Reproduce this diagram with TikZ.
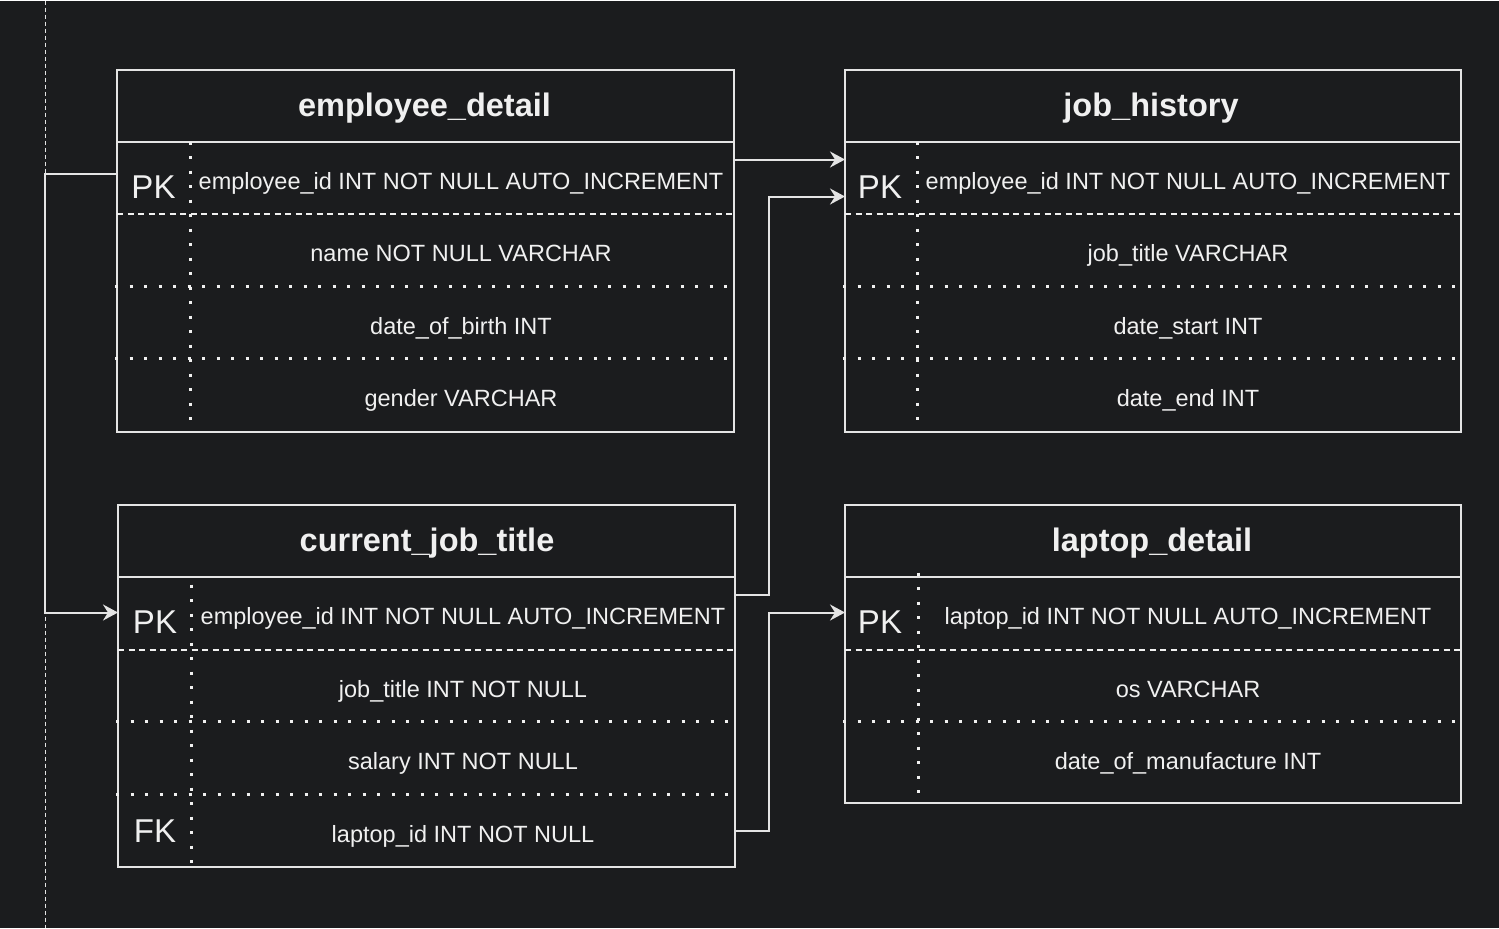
\documentclass[tikz,border=0pt]{standalone}
\usepackage{fontspec}
\setmainfont{Liberation Sans}
\usetikzlibrary{arrows.meta,positioning}
\definecolor{bgdark}{HTML}{1B1C1E}
\definecolor{linegray}{HTML}{E4E4E4}
\definecolor{txtwhite}{HTML}{F0F0F0}

\tikzset{
  frame/.style={draw=linegray, line width=1pt},
  pkline/.style={draw=txtwhite, line width=1pt, dash pattern=on 3pt off 2.25pt},
  dotline/.style={draw=txtwhite, line width=1.5pt, dash pattern=on 1.5pt off 5.75pt},
  guide/.style={draw=linegray, line width=0.5pt, dash pattern=on 2pt off 1.5pt},
  title/.style={text=txtwhite, anchor=base, inner sep=0pt, font=\fontsize{16.25}{19}\selectfont\bfseries},
  keytxt/.style={text=txtwhite, anchor=base, inner sep=0pt, font=\fontsize{16.5}{19}\selectfont},
  fieldtxt/.style={text=txtwhite, anchor=base, inner sep=0pt, font=\fontsize{11.75}{14}\selectfont},
  link/.style={draw=linegray, line width=1pt, -{Stealth[length=7.5pt,width=8pt,inset=2.5pt]}}
}

\begin{document}
\begin{tikzpicture}[x=0.5pt,y=-0.5pt]

  % background
  \fill[bgdark] (0,0) rectangle (1499,927);

  % guide line on the left
  \draw[guide] (45,0) -- (45,927);

  % employee_detail
  \draw[frame] (117,69) rectangle (734,431);
  \draw[frame] (117,141) -- (734,141);
  \draw[pkline] (117,213) -- (734,213);
  \foreach \y in {286,358} \draw[dotline] (115,\y) -- (734,\y);
  \draw[dotline] (190,141) -- (190,431);
  \node[title] (edtitle) at (424.5,116) {employee\_detail};
  \node[keytxt] (edpk) at (153.5,198) {PK};
  \node[fieldtxt] (ed1) at (461,188.5) {employee\_id INT NOT NULL AUTO\_INCREMENT};
  \node[fieldtxt] (ed2) at (461,261) {name NOT NULL VARCHAR};
  \node[fieldtxt] (ed3) at (461,333.5) {date\_of\_birth INT};
  \node[fieldtxt] (ed4) at (461,406) {gender VARCHAR};

  % job_history
  \draw[frame] (845,69) rectangle (1461,431);
  \draw[frame] (845,141) -- (1461,141);
  \draw[pkline] (845,213) -- (1461,213);
  \foreach \y in {286,358} \draw[dotline] (843,\y) -- (1461,\y);
  \draw[dotline] (917,141) -- (917,431);
  \node[title] (jhtitle) at (1151,116) {job\_history};
  \node[keytxt] (jhpk) at (880,198) {PK};
  \node[fieldtxt] (jh1) at (1188,188.5) {employee\_id INT NOT NULL AUTO\_INCREMENT};
  \node[fieldtxt] (jh2) at (1188,261) {job\_title VARCHAR};
  \node[fieldtxt] (jh3) at (1188,333.5) {date\_start INT};
  \node[fieldtxt] (jh4) at (1188,406) {date\_end INT};

  % current_job_title
  \draw[frame] (118,504) rectangle (735,866);
  \draw[frame] (118,576) -- (735,576);
  \draw[pkline] (118,649) -- (735,649);
  \foreach \y in {721,794} \draw[dotline] (116,\y) -- (735,\y);
  \draw[dotline] (191,584) -- (191,866);
  \node[title] (cjtitle) at (427,551) {current\_job\_title};
  \node[keytxt] (cjpk) at (155,633) {PK};
  \node[keytxt] (cjfk) at (155,842) {FK};
  \node[fieldtxt] (cj1) at (463,624) {employee\_id INT NOT NULL AUTO\_INCREMENT};
  \node[fieldtxt] (cj2) at (463,696.5) {job\_title INT NOT NULL};
  \node[fieldtxt] (cj3) at (463,769) {salary INT NOT NULL};
  \node[fieldtxt] (cj4) at (463,841.5) {laptop\_id INT NOT NULL};

  % laptop_detail
  \draw[frame] (845,504) rectangle (1461,802);
  \draw[frame] (845,576) -- (1461,576);
  \draw[pkline] (845,649) -- (1461,649);
  \draw[dotline] (843,721) -- (1461,721);
  \draw[dotline] (918,572) -- (918,802);
  \node[title] (lptitle) at (1152,551) {laptop\_detail};
  \node[keytxt] (lppk) at (880,633) {PK};
  \node[fieldtxt] (lp1) at (1188,624) {laptop\_id INT NOT NULL AUTO\_INCREMENT};
  \node[fieldtxt] (lp2) at (1188,696.5) {os VARCHAR};
  \node[fieldtxt] (lp3) at (1188,769) {date\_of\_manufacture INT};

  % connector ends
  \coordinate (edout) at (734,159);
  \coordinate (edleft) at (117,173);
  \coordinate (jhin1) at (845,159);
  \coordinate (jhin2) at (845,196);
  \coordinate (cjout) at (735,594);
  \coordinate (cjfkout) at (735,830);
  \coordinate (cjin) at (118,612);
  \coordinate (lpin) at (845,612);

  % relations
  \draw[link] (edout) -- (jhin1);
  \draw[link] (cjout) -- ++(34,0) |- (jhin2);
  \draw[link] (cjfkout) -- ++(34,0) |- (lpin);
  \draw[link] (edleft) -- ++(-72,0) |- (cjin);

\end{tikzpicture}
\end{document}
